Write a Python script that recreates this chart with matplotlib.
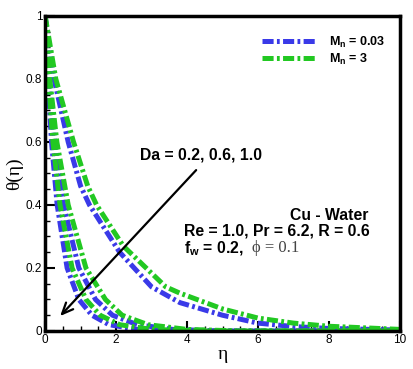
import matplotlib
matplotlib.use("Agg")
import matplotlib.pyplot as plt
from matplotlib.ticker import MultipleLocator

plt.rcParams['lines.scale_dashes'] = False
plt.rcParams['mathtext.fontset'] = 'custom'
plt.rcParams['mathtext.rm'] = 'Liberation Sans'
plt.rcParams['mathtext.bf'] = 'Liberation Sans:bold'
plt.rcParams['mathtext.it'] = 'Liberation Sans:italic'

# ---- data ----
# Da = 1.0, Mn = 0.03 (blue)
eta_a = [0, 0.08, 0.18, 0.34, 0.62, 0.95, 1.32, 1.8, 2.6, 4.0, 10]
th_a = [1, 0.8, 0.6, 0.4, 0.2, 0.1, 0.05, 0.02, 0.005, 0.0, 0.0]
# Da = 1.0, Mn = 3 (green)
eta_b = [0, 0.09, 0.22, 0.42, 0.76, 1.15, 1.55, 2.1, 3.0, 4.5, 10]
th_b = [1, 0.8, 0.6, 0.4, 0.2, 0.1, 0.05, 0.02, 0.005, 0.0, 0.0]
# Da = 0.6, Mn = 0.03 (blue)
eta_c = [0, 0.11, 0.27, 0.52, 0.95, 1.42, 1.9, 2.6, 3.6, 5.0, 10]
th_c = [1, 0.8, 0.6, 0.4, 0.2, 0.1, 0.05, 0.02, 0.005, 0.0, 0.0]
# Da = 0.6, Mn = 3 (green)
eta_d = [0, 0.13, 0.33, 0.65, 1.15, 1.7, 2.17, 2.9, 4.0, 5.5, 10]
th_d = [1, 0.8, 0.6, 0.4, 0.2, 0.1, 0.05, 0.02, 0.005, 0.0, 0.0]
# Da = 0.2, Mn = 0.03 (blue)
eta_e = [0, 0.25, 0.65, 1.0, 1.25, 2.1, 3.0, 3.8, 5.0, 6.0, 7.0, 8.0, 10]
th_e = [1, 0.8, 0.6, 0.46, 0.4, 0.25, 0.14, 0.09, 0.05, 0.025, 0.014, 0.008, 0.003]
# Da = 0.2, Mn = 3 (green)
eta_f = [0, 0.3, 0.8, 1.2, 1.45, 2.2, 3.4, 3.8, 5.0, 6.0, 7.0, 8.0, 10]
th_f = [1, 0.8, 0.6, 0.46, 0.4, 0.27, 0.14, 0.12, 0.07, 0.041, 0.025, 0.015, 0.005]

labels = [r"$\mathbf{M}_\mathbf{n}$ = 0.03", r"$\mathbf{M}_\mathbf{n}$ = 3"]
xticks = [0, 2, 4, 6, 8, 10]
yticks = [0, 0.2, 0.4, 0.6, 0.8, 1]

BLUE = '#3a3ae8'
GREEN = '#22c822'
DASH = (0, (8, 2.4, 2.0, 2.4))

fig = plt.figure(figsize=(4.14, 3.69), dpi=100)
ax = fig.add_axes([0.109, 0.103, 0.857, 0.854])

lw = 3.6
lb, = ax.plot(eta_a, th_a, color=BLUE, lw=lw, linestyle=DASH)
ax.plot(eta_c, th_c, color=BLUE, lw=lw, linestyle=DASH)
ax.plot(eta_e, th_e, color=BLUE, lw=lw, linestyle=DASH)
lg, = ax.plot(eta_b, th_b, color=GREEN, lw=lw, linestyle=DASH)
ax.plot(eta_d, th_d, color=GREEN, lw=lw, linestyle=DASH)
ax.plot(eta_f, th_f, color=GREEN, lw=lw, linestyle=DASH)

ax.set_xlim(0, 10)
ax.set_ylim(0, 1)
ax.set_xticks(xticks)
ax.set_yticks(yticks)
ax.set_xticklabels([str(t) for t in xticks])
ax.set_yticklabels(['0', '0.2', '0.4', '0.6', '0.8', '1'])
ax.xaxis.set_minor_locator(MultipleLocator(0.5))
ax.yaxis.set_minor_locator(MultipleLocator(0.05))
ax.tick_params(which='major', direction='in', length=7, width=1.5,
               top=False, right=False, labelsize=8.5, pad=2)
ax.tick_params(which='minor', direction='in', length=3.5, width=1.0,
               top=False, right=False)
for lab in ax.get_xticklabels() + ax.get_yticklabels():
    lab.set_fontfamily('Liberation Sans')
for s in ax.spines.values():
    s.set_linewidth(2.5)

ax.set_xlabel('η', fontfamily='Liberation Serif', fontsize=14, labelpad=0)
ax.set_ylabel('θ(η)', fontfamily='Liberation Serif', fontsize=14, labelpad=2)

leg = ax.legend([lb, lg], labels, loc='upper left', bbox_to_anchor=(0.612, 0.94),
                frameon=False, handlelength=4.3, handletextpad=1.0,
                labelspacing=0.15, borderpad=0, borderaxespad=0,
                prop={'family': 'Liberation Sans', 'weight': 'bold', 'size': 9})

ax.annotate('', xy=(0.37, 0.041), xytext=(4.31, 0.517),
            arrowprops=dict(arrowstyle='->,head_length=0.8,head_width=0.35',
                            color='black', lw=1.6))

tk = dict(fontfamily='Liberation Sans', fontweight='bold', fontsize=11.3)
ax.text(2.68, 0.56, 'Da = 0.2, 0.6, 1.0', ha='left', va='center', **tk)
ax.text(9.1, 0.365, 'Cu - Water', ha='right', va='center', **tk)
ax.text(3.92, 0.317, 'Re = 1.0, Pr = 6.2, R = 0.6', ha='left', va='center', **tk)
ax.text(3.92, 0.262, r'$\mathbf{f}_\mathbf{w}$ = 0.2,', ha='left', va='center', **tk)
ax.text(5.82, 0.262, 'ϕ = 0.1', ha='left', va='center', color='#444444',
        fontfamily='Liberation Serif', fontsize=12)

fig.savefig('out.png', dpi=100)
